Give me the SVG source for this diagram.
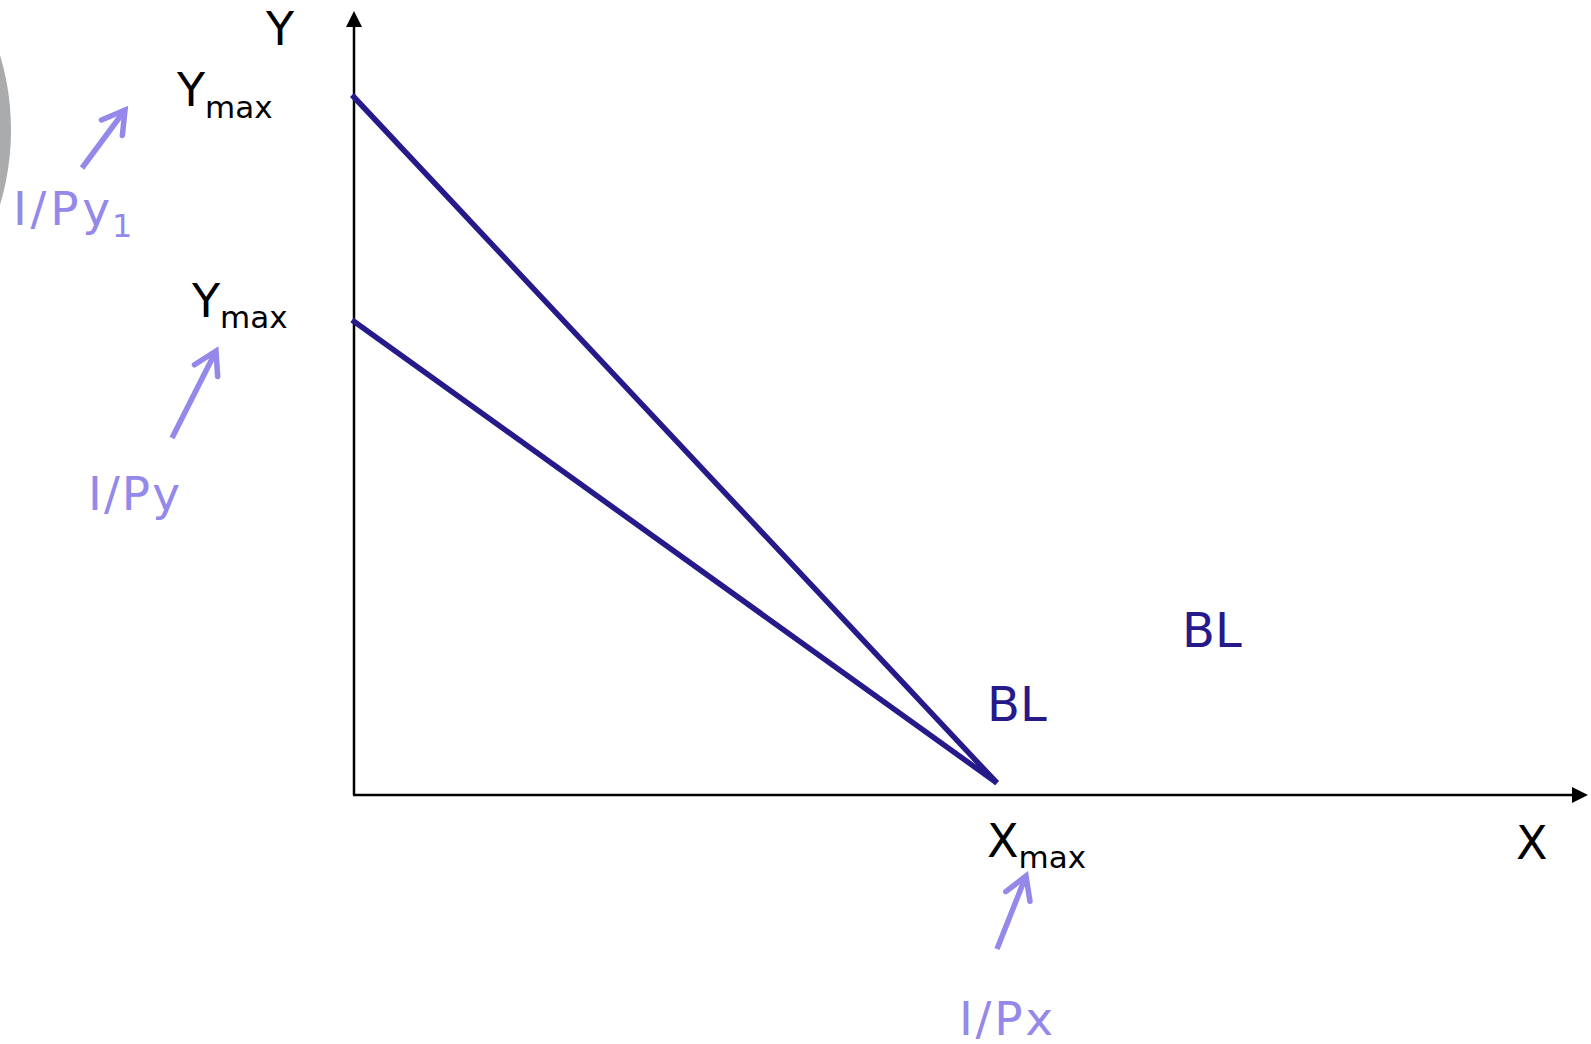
<svg xmlns="http://www.w3.org/2000/svg" width="1591" height="1044" viewBox="0 0 1591 1044">
<style>
text{font-family:"DejaVu Sans","Liberation Sans",sans-serif}
.blk{fill:#000;font-size:46px}
.sub{font-size:31px}
.pur{fill:#9488EA;font-size:47px}
.blue{fill:#261A8A;font-size:48px}
.axis{stroke:#000;stroke-width:2.5;fill:none}
.bl{stroke:#261A8A;stroke-width:5.5;fill:none}
.pa{stroke:#9488EA;stroke-width:5.5;fill:none}
</style>
<defs>
<marker id="ah" markerUnits="userSpaceOnUse" orient="auto" refX="0" refY="0" markerWidth="40" markerHeight="40" overflow="visible">
<path d="M-22,-13 L0,0 L-22,13" fill="none" stroke="#9488EA" stroke-width="5.5" stroke-linejoin="miter" stroke-linecap="round"/>
</marker>
</defs>
<circle id="grey-shape" cx="-250" cy="130" r="261" fill="#A9ABAC"/>
<g id="connectors">
<line class="axis" x1="354" y1="795" x2="354" y2="26"/>
<path d="M354,11 L346,27 L362,27 Z" fill="#000"/>
<line class="axis" x1="353" y1="795" x2="1573" y2="795"/>
<path d="M1588,795 L1572,787 L1572,803 Z" fill="#000"/>
<line class="bl" x1="352" y1="95" x2="997" y2="783"/>
<line class="bl" x1="352" y1="320" x2="997" y2="783"/>
<line class="pa" x1="82" y1="168" x2="125" y2="110" marker-end="url(#ah)"/>
<line class="pa" x1="172" y1="438" x2="216" y2="351" marker-end="url(#ah)"/>
<line class="pa" x1="997" y1="949" x2="1026" y2="876" marker-end="url(#ah)"/>
</g>
<g id="label-Y"><text class="blk" x="266" y="45">Y</text></g>
<g id="label-X"><text class="blk" x="1516" y="859">X</text></g>
<g id="label-Ymax1"><text class="blk" x="177" y="106" font-size="47">Y<tspan class="sub" dy="12">max</tspan></text></g>
<g id="label-Ymax2"><text class="blk" x="192" y="317" font-size="47">Y<tspan class="sub" dy="11">max</tspan></text></g>
<g id="label-Xmax"><text class="blk" x="987" y="857" font-size="47">X<tspan class="sub" dy="11">max</tspan></text></g>
<g id="label-IPy1"><text class="pur" x="13" y="225"><tspan textLength="97" lengthAdjust="spacing">I/Py</tspan><tspan font-size="32" x="112" y="237">1</tspan></text></g>
<g id="label-IPy"><text class="pur" x="88" y="510" textLength="92" lengthAdjust="spacing">I/Py</text></g>
<g id="label-IPx"><text class="pur" x="959" y="1035" textLength="94" lengthAdjust="spacing">I/Px</text></g>
<g id="label-BL1"><text class="blue" x="1182" y="647">BL</text></g>
<g id="label-BL2"><text class="blue" x="987" y="721">BL</text></g>
</svg>
